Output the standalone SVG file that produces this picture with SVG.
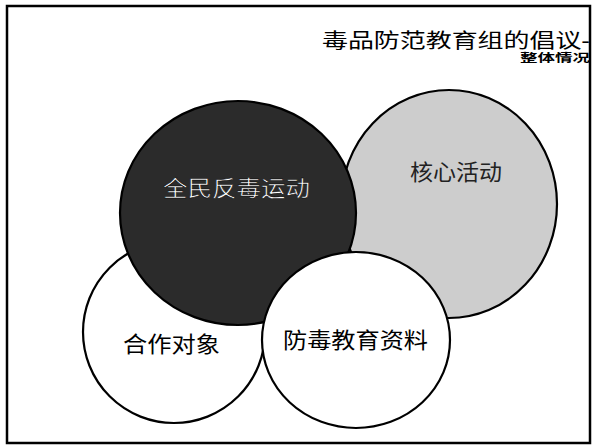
<svg xmlns="http://www.w3.org/2000/svg" width="593" height="447" viewBox="0 0 593 447">
  <style>
    .lbl { font-family: "Liberation Sans", "Noto Sans CJK SC", sans-serif; font-size: 22px; }
    .ring { stroke: #000; stroke-width: 2.2; }
  </style>
  <rect x="0" y="0" width="593" height="447" fill="#fff"/>
  <rect id="frame" x="7" y="6" width="583" height="437" fill="none" stroke="#000" stroke-width="2.5"/>
  <g id="title">
    <text x="322" y="48" textLength="268" lengthAdjust="spacingAndGlyphs" style="font-family: 'Liberation Sans', 'Noto Sans CJK SC', sans-serif; font-size: 20px;">毒品防范教育组的倡议-</text>
    <text x="520" y="62" textLength="70" lengthAdjust="spacingAndGlyphs" style="font-family: 'Liberation Sans', 'Noto Sans CJK SC', sans-serif; font-size: 11.5px; font-weight: bold;">整体情况</text>
  </g>
  <g id="node-partners">
    <ellipse class="ring" cx="174" cy="332" rx="91" ry="91" fill="#fff"/>
    <text class="lbl" x="123" y="352" textLength="97" lengthAdjust="spacingAndGlyphs">合作对象</text>
  </g>
  <g id="node-core">
    <ellipse class="ring" cx="449" cy="204" rx="108" ry="114" fill="#cdcdcd"/>
    <text class="lbl" x="410" y="180" textLength="92" lengthAdjust="spacingAndGlyphs" fill="#222">核心活动</text>
  </g>
  <g id="node-campaign">
    <ellipse class="ring" cx="238" cy="213" rx="118" ry="112" fill="#2b2b2b"/>
    <text class="lbl" x="163" y="196" textLength="147" lengthAdjust="spacingAndGlyphs" fill="#fff" stroke="#000" stroke-width="0.5">全民反毒运动</text>
  </g>
  <g id="node-materials">
    <ellipse class="ring" cx="356" cy="340" rx="94" ry="88" fill="#fff"/>
    <text class="lbl" x="283" y="348" textLength="145" lengthAdjust="spacingAndGlyphs">防毒教育资料</text>
  </g>
  <g id="connectors"/>
</svg>
